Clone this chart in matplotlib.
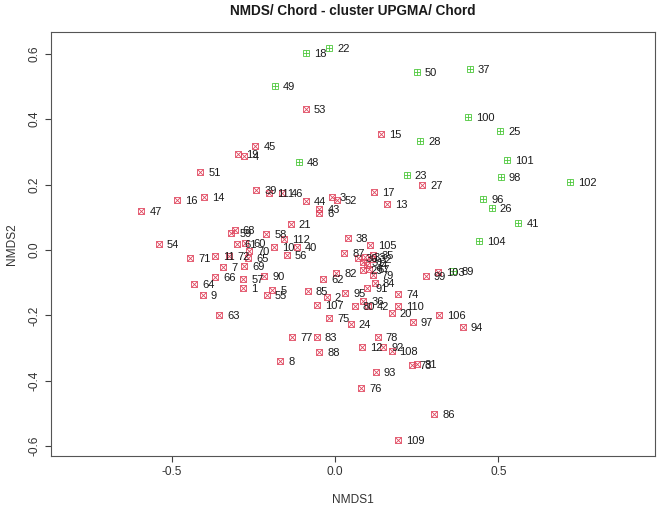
import matplotlib
matplotlib.use("Agg")
import matplotlib.pyplot as plt

# NMDS scores, samples 1..112
sample_ids = list(range(1, 113))
nmds1 = [-0.280, -0.025, -0.010, -0.277, -0.192, -0.048, -0.342, -0.168, -0.405, -0.187,
         -0.366, 0.083, 0.158, -0.402, 0.140, -0.483, 0.119, -0.089, -0.298, 0.173,
         -0.135, -0.017, 0.219, 0.048, 0.506, 0.480, 0.267, 0.261, 0.085, 0.069,
         0.086, 0.113, 0.092, 0.098, 0.117, 0.087, 0.413, 0.039, -0.241, -0.117,
         0.561, 0.102, -0.048, -0.090, -0.244, -0.161, -0.593, -0.110, -0.184, 0.251,
         -0.412, 0.005, -0.090, -0.539, -0.209, -0.148, -0.280, -0.210, -0.317, -0.275,
         -0.301, -0.036, -0.354, -0.431, -0.265, -0.366, 0.105, -0.307, -0.278, -0.263,
         -0.443, -0.323, 0.235, 0.194, -0.017, 0.080, -0.131, 0.131, 0.117, 0.061,
         0.250, 0.003, -0.056, 0.122, -0.083, 0.304, 0.028, -0.048, 0.362, -0.216,
         0.099, 0.148, 0.125, 0.391, 0.031, 0.454, 0.238, 0.507, 0.278, 0.408,
         0.525, 0.719, 0.314, 0.441, 0.107, 0.319, -0.054, 0.173, 0.192, 0.194,
         -0.203, -0.155]
nmds2 = [-0.116, -0.145, 0.163, 0.288, -0.122, 0.114, -0.051, -0.339, -0.139, 0.008,
         -0.018, -0.298, 0.141, 0.163, 0.356, 0.152, 0.176, 0.602, 0.294, -0.192,
         0.079, 0.618, 0.229, -0.226, 0.363, 0.129, 0.199, 0.333, -0.061, -0.025,
         -0.037, -0.029, -0.021, -0.046, -0.015, -0.155, 0.553, 0.036, 0.183, 0.008,
         0.082, -0.171, 0.124, 0.151, 0.318, 0.173, 0.119, 0.270, 0.502, 0.545,
         0.238, 0.153, 0.430, 0.019, -0.139, -0.014, -0.089, 0.049, 0.052, 0.020,
         0.018, -0.090, -0.198, -0.103, -0.025, -0.082, -0.059, 0.061, -0.049, -0.004,
         -0.024, -0.018, -0.352, -0.135, -0.207, -0.422, -0.265, -0.267, -0.076, -0.170,
         -0.350, -0.071, -0.267, -0.102, -0.126, -0.502, -0.008, -0.313, -0.065, -0.079,
         -0.115, -0.298, -0.372, -0.235, -0.132, 0.155, -0.220, 0.222, -0.080, 0.405,
         0.274, 0.209, -0.068, 0.028, 0.016, -0.200, -0.168, -0.308, -0.581, -0.170,
         0.173, 0.034]
# samples in the second UPGMA cluster (green)
cluster2 = [18, 22, 23, 25, 26, 28, 37, 41, 48, 49, 50, 89, 96, 98, 100, 101, 102, 104]

RED = "#E0475F"
GREEN = "#4CC83A"

plt.rcParams["font.family"] = ["Liberation Sans", "DejaVu Sans"]
narrow = ["Liberation Sans Narrow", "Liberation Sans", "DejaVu Sans"]

fig = plt.figure(figsize=(6.6, 5.08), dpi=100)
ax = fig.add_axes([0.0773, 0.1024, 0.915, 0.835])

for sid, x, y in zip(sample_ids, nmds1, nmds2):
    if sid in cluster2:
        col, inner = GREEN, "+"
    else:
        col, inner = RED, "x"
    ax.plot(x, y, marker="s", ms=4.2, mfc="none", mec=col, mew=0.6, ls="none")
    ax.plot(x, y, marker=inner, ms=4.2, mec=col, mew=0.6, ls="none")
    ax.annotate(str(sid), (x, y), xytext=(5.8, 0), textcoords="offset points",
                ha="left", va="center_baseline", fontsize=8.0, color="#1a1a1a",
                family=narrow)

ax.set_xlim(-0.869, 0.979)
ax.set_ylim(-0.630, 0.667)
ax.set_xticks([-0.5, 0.0, 0.5])
ax.set_yticks([-0.6, -0.4, -0.2, 0.0, 0.2, 0.4, 0.6])
ax.set_xticklabels(["-0.5", "0.0", "0.5"])
ax.set_yticklabels(["-0.6", "-0.4", "-0.2", "0.0", "0.2", "0.4", "0.6"],
                   rotation=90, va="center")
ax.tick_params(direction="out", length=4.5, width=0.8, colors="#404040",
               labelsize=8.6, labelcolor="#333333", pad=3)
for sp in ax.spines.values():
    sp.set_color("#555555")
    sp.set_linewidth(0.8)

fig.text(0.535, 0.978, "NMDS/ Chord - cluster UPGMA/ Chord", ha="center", va="center",
         fontsize=9.8, fontweight="bold", color="#1a1a1a")
fig.text(0.535, 0.016, "NMDS1", ha="center", va="center", fontsize=8.6, color="#333333")
fig.text(0.018, 0.52, "NMDS2", ha="center", va="center", rotation=90, fontsize=8.6,
         color="#333333")

fig.savefig("out.png", dpi=100)
